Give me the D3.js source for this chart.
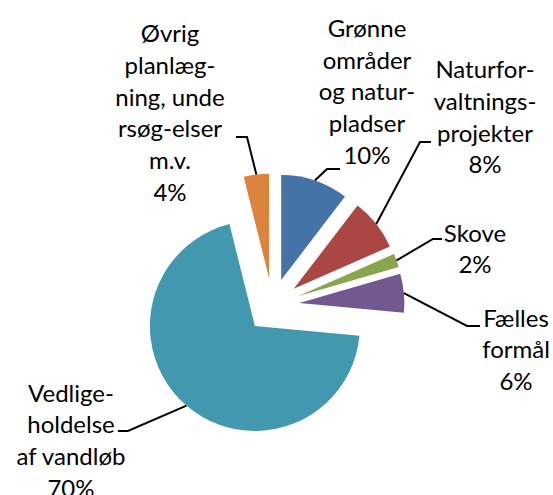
<!DOCTYPE html>
<html>
<head>
<meta charset="utf-8">
<script src="https://cdn.jsdelivr.net/npm/d3@7"></script>
<style>
  body { margin: 0; background: #fff; }
  text { font-family: Lato, "Open Sans", sans-serif; font-size: 24px; fill: #000; }
</style>
</head>
<body>
<script>
// Data (shares, clockwise from 12 o'clock)
const categories = [
  "Grønne områder og naturpladser",
  "Naturforvaltningsprojekter",
  "Skove",
  "Fælles formål",
  "Vedligeholdelse af vandløb",
  "Øvrig planlægning, undersøgelser m.v."
];
const labelLines = [
  ["Grønne", "områder", "og natur-", "pladser"],
  ["Naturfor-", "valtnings-", "projekter"],
  ["Skove"],
  ["Fælles", "formål"],
  ["Vedlige-", "holdelse", "af vandløb"],
  ["Øvrig", "planlæg-", "ning, unde", "rsøg-elser", "m.v."]
];
const values = [10.4, 8.0, 2.1, 6.0, 69.6, 3.9];
const percentLabels = ["10%", "8%", "2%", "6%", "70%", "4%"];
const colors = ["#4572A7", "#AA4643", "#89A54E", "#71588F", "#4198AF", "#DB843D"];

const SVG_WIDTH = 553, SVG_HEIGHT = 495;
const cx = 272.5, cy = 305.5;
const radius = 105;
const explode = 27;
const lineHeight = 31.8;

// label anchor (center x, first baseline) and leader elbow / end points
const labelPos = [
  {x: 367, y: 36.7, elbow: [327, 169], end: [340, 169]},
  {x: 485, y: 78,   elbow: [420, 142], end: [431, 142]},
  {x: 475, y: 241.5, elbow: [433, 239], end: [442, 239]},
  {x: 516, y: 326.5, elbow: [467, 326], end: [480, 326]},
  {x: 71,  y: 401.5, elbow: [128, 431], end: [118, 431]},
  {x: 170, y: 42,   elbow: [247, 137], end: [236, 137]}
];

let svg = null;
let pie, arc, arcs;

setupSvg("body");
setupPie();
drawSlices();
drawLeaders();
drawLabels();

function setupSvg(domElement) {
  svg = d3.select(domElement).append("svg")
      .attr("width", SVG_WIDTH)
      .attr("height", SVG_HEIGHT);
}

function setupPie() {
  pie = d3.pie().sort(null).value(d => d);
  arc = d3.arc().innerRadius(0).outerRadius(radius);
  arcs = pie(values);
}

function mid(d) {
  return (d.startAngle + d.endAngle) / 2;
}

// apex of an exploded slice
function offset(d) {
  const a = mid(d);
  return [cx + explode * Math.sin(a), cy - explode * Math.cos(a)];
}

function drawSlices() {
  svg.append("g").selectAll("path")
    .data(arcs)
    .join("path")
      .attr("transform", d => `translate(${offset(d)[0]}, ${offset(d)[1]})`)
      .attr("d", arc)
      .attr("fill", (d, i) => colors[i]);
}

function drawLeaders() {
  svg.append("g").selectAll("path")
    .data(arcs)
    .join("path")
      .attr("d", (d, i) => {
        const o = offset(d), a = mid(d);
        const start = [o[0] + radius * Math.sin(a), o[1] - radius * Math.cos(a)];
        return d3.line()([start, labelPos[i].elbow, labelPos[i].end]);
      })
      .attr("fill", "none")
      .attr("stroke", "#000")
      .attr("stroke-width", 2);
}

function drawLabels() {
  const g = svg.append("g");
  arcs.forEach((d, i) => {
    const lines = labelLines[i].concat([percentLabels[i]]);
    const t = g.append("text")
        .attr("text-anchor", "middle");
    lines.forEach((s, k) => {
      t.append("tspan")
        .attr("x", labelPos[i].x)
        .attr("y", labelPos[i].y + k * lineHeight)
        .text(s);
    });
  });
}
</script>
</body>
</html>
